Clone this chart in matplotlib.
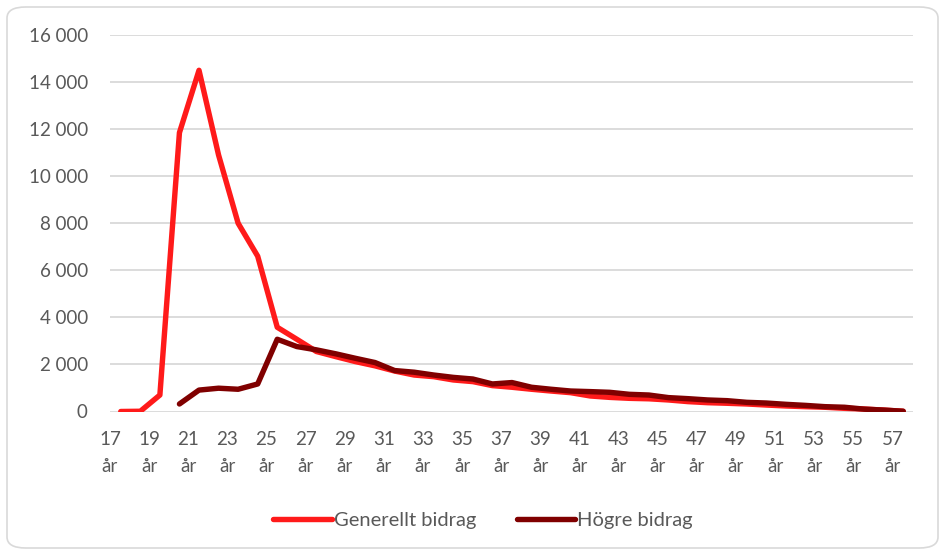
import numpy as np
import matplotlib.pyplot as plt
from matplotlib.patches import FancyBboxPatch

ages = list(range(17, 58))
generellt = [0, 10, 700, 11850, 14500, 10900, 8000, 6600, 3580, 3070,
             2550, 2330, 2120, 1940, 1720, 1550, 1480, 1340, 1270, 1100,
             1030, 945, 870, 800, 660, 600, 560, 540, 490, 420,
             375, 350, 320, 275, 235, 205, 180, 135, 105, 60, 10]
hogre = [np.nan, np.nan, np.nan, 320, 910, 990, 945, 1170, 3070, 2760,
         2620, 2450, 2260, 2080, 1740, 1670, 1550, 1450, 1380, 1170,
         1230, 1030, 945, 870, 845, 815, 730, 700, 590, 545,
         490, 460, 390, 360, 305, 260, 205, 180, 100, 60, 10]
yticks = list(range(0, 16001, 2000))

plt.rcParams['font.family'] = ['Lato', 'DejaVu Sans']
grey = '#595959'

fig = plt.figure(figsize=(9.41, 5.51), dpi=100)
fig.patches.append(FancyBboxPatch((7 / 941, 3 / 551), 931 / 941, 541 / 551,
                                  boxstyle='round,pad=0,rounding_size=0.02',
                                  transform=fig.transFigure, facecolor='white',
                                  edgecolor='#d9d9d9', linewidth=1.2, zorder=-1))
ax = fig.add_axes([110 / 941, 1 - 411.5 / 551, 803 / 941, 376.5 / 551])
ax.patch.set_alpha(0)

x = np.arange(len(ages))
ax.plot(x, generellt, color='#ff1a1a', lw=3.9, solid_capstyle='round',
        solid_joinstyle='round', label='Generellt bidrag', zorder=3)
ax.plot(x, hogre, color='#800000', lw=3.9, solid_capstyle='round',
        solid_joinstyle='round', label='Högre bidrag', zorder=4)

ax.set_xlim(-0.5, len(ages) - 0.5)
ax.set_ylim(0, 16000)
ax.set_yticks(yticks)
ax.set_yticklabels([f'{v:,}'.replace(',', ' ') for v in yticks])
ax.grid(axis='y', color='#d9d9d9', lw=1.3)
ax.set_axisbelow(True)
for s in ax.spines.values():
    s.set_visible(False)

ax.set_xticks(x[::2] - 0.55)
ax.set_xticklabels([f'{a}\når' for a in ages[::2]], linespacing=1.75)
ax.tick_params(axis='x', length=0, pad=14, labelsize=13.5, labelcolor=grey)
ax.tick_params(axis='y', length=0, pad=16, labelsize=13.5, labelcolor=grey)

fig.legend(loc='center', bbox_to_anchor=(483 / 941, 1 - 520 / 551), ncol=2,
           frameon=False, fontsize=14.5, labelcolor=grey, handlelength=2.9,
           handletextpad=0.1, columnspacing=2.0)

fig.savefig('out.png', dpi=100)
